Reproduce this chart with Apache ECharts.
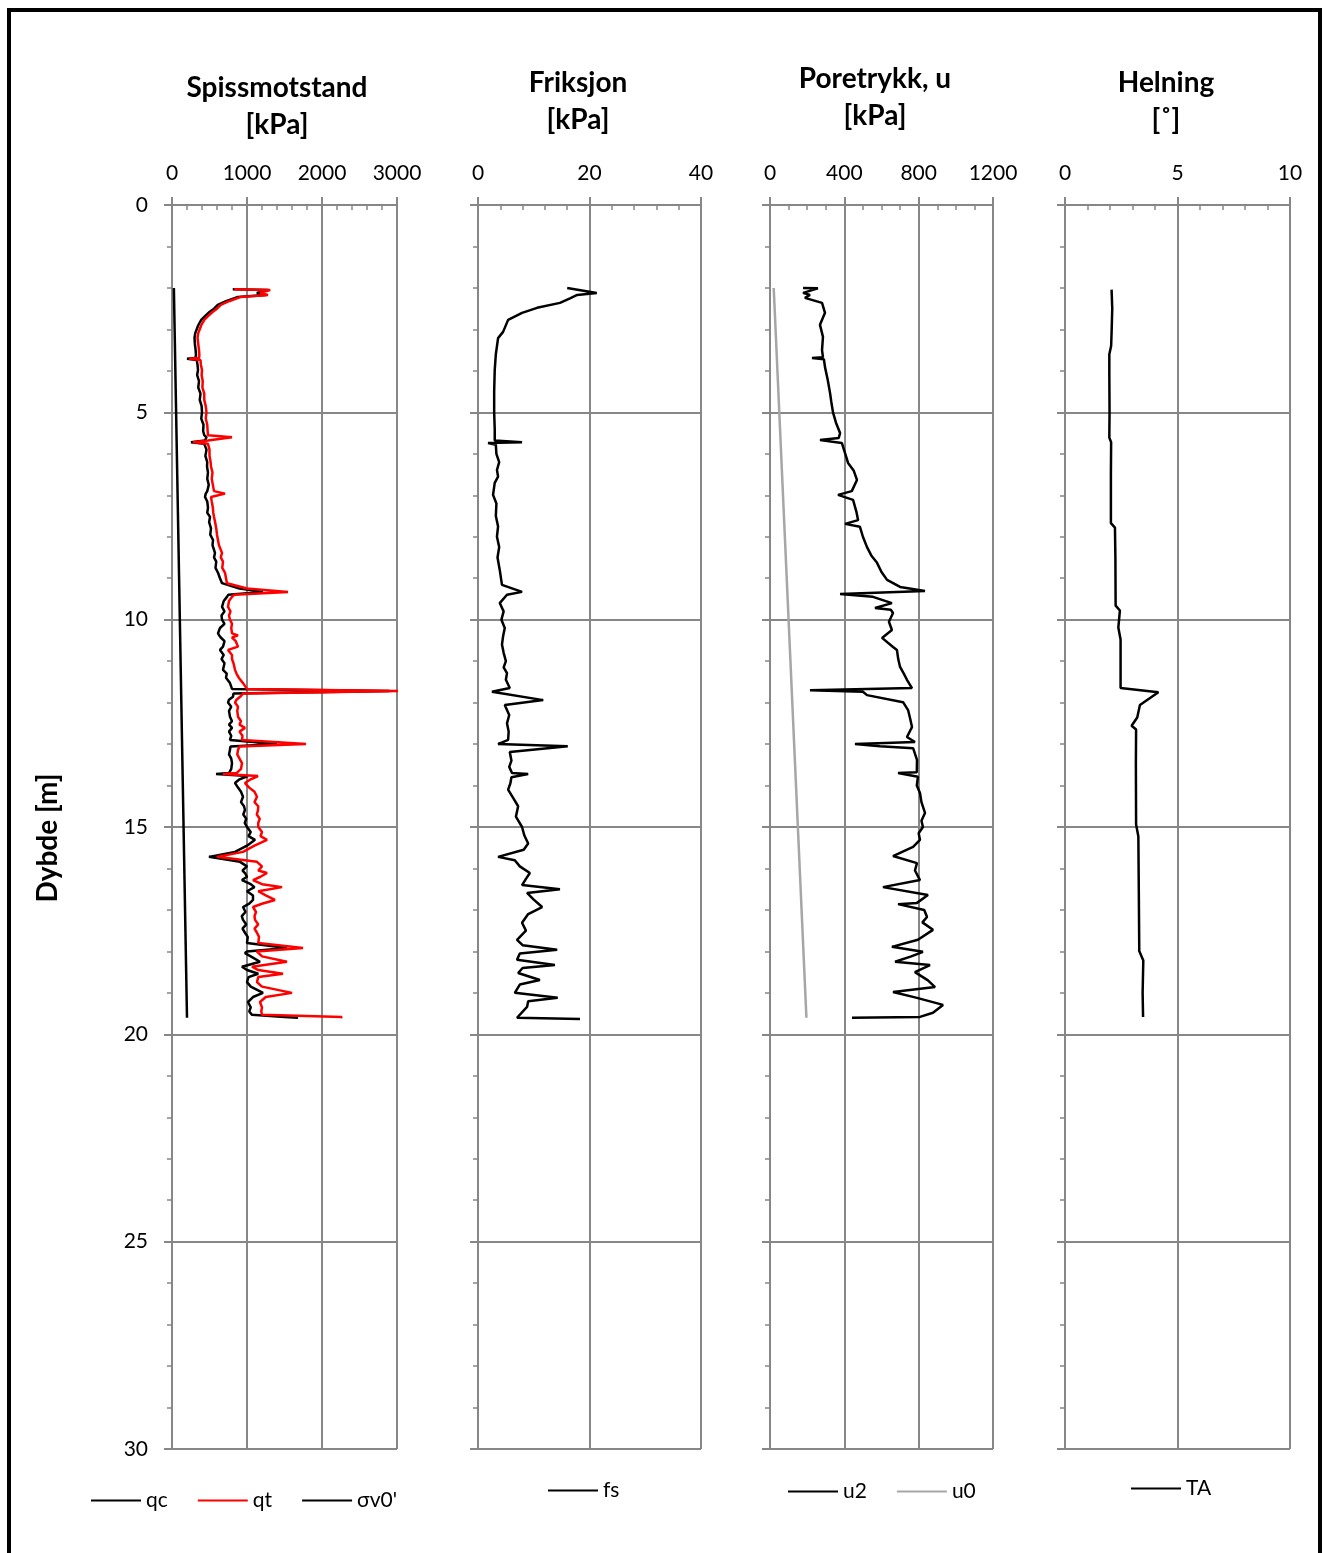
<!DOCTYPE html>
<html>
<head>
<meta charset="utf-8">
<script src="https://cdn.jsdelivr.net/npm/echarts@6/dist/echarts.min.js"></script>
<style>html,body{margin:0;padding:0;background:#fff}#c{width:1323px;height:1553px}</style>
</head>
<body>
<div id="c"></div>
<script>
// ---------- DATA ----------
var depthQ = [2.03,2.05,2.12,2.17,2.22,2.32,2.41,2.50,2.58,2.68,
  2.77,2.90,3.09,3.20,3.35,3.50,3.62,3.69,3.71,3.74,
  3.85,3.98,4.10,4.25,4.40,4.55,4.70,4.85,5.00,5.15,
  5.30,5.45,5.55,5.60,5.68,5.72,5.76,5.90,6.05,6.20,
  6.31,6.45,6.60,6.75,6.90,6.96,7.04,7.15,7.30,7.42,
  7.52,7.65,7.80,7.95,8.08,8.20,8.39,8.50,8.60,8.75,
  8.87,9.00,9.12,9.25,9.33,9.40,9.45,9.55,9.69,9.80,
  9.90,10.00,10.10,10.20,10.33,10.38,10.43,10.52,10.65,10.73,
  10.85,10.95,11.05,11.21,11.30,11.40,11.53,11.67,11.72,11.78,
  11.86,11.93,12.00,12.10,12.20,12.34,12.45,12.53,12.61,12.70,
  12.80,12.90,13.00,13.06,13.14,13.25,13.35,13.46,13.60,13.70,
  13.72,13.77,13.85,13.94,14.05,14.15,14.27,14.40,14.50,14.59,
  14.70,14.80,14.90,15.00,15.12,15.22,15.31,15.45,15.60,15.72,
  15.84,15.95,16.05,16.11,16.20,16.28,16.38,16.45,16.55,16.65,
  16.76,16.85,16.93,17.05,17.15,17.24,17.35,17.45,17.55,17.65,
  17.80,17.92,18.00,18.04,18.12,18.25,18.37,18.45,18.54,18.62,
  18.74,18.85,19.00,19.10,19.22,19.35,19.45,19.53,19.58,19.60];
var qc = [810,1280,1130,1250,880,720,610,560,500,440,
  390,350,310,300,305,315,320,310,200,330,
  340,347,335,360,350,380,370,395,400,390,
  420,415,430,460,440,253,430,460,445,470,
  467,480,470,490,470,450,440,470,480,470,
  507,495,520,510,547,540,573,560,590,580,
  613,640,667,900,1213,750,733,690,667,700,
  660,667,700,640,613,630,650,700,680,640,
  690,660,700,680,730,720,773,800,2900,820,
  813,760,747,790,760,773,800,760,800,760,
  790,773,1400,780,773,760,790,800,790,760,
  587,1013,900,840,880,920,947,920,960,973,
  950,990,970,1000,1050,1020,1107,1000,840,493,
  907,1000,940,973,1000,933,1050,1100,1000,1080,
  1080,1030,947,980,930,947,990,940,973,1010,
  1000,1533,1000,973,1050,1173,933,1000,1150,1020,
  1000,1050,1213,1080,1013,1050,1030,1067,1500,1680];
var qt = [830,1310,1170,1280,910,760,650,600,540,480,
  430,390,350,340,350,360,365,360,230,380,
  385,400,395,410,405,430,430,450,460,450,
  470,475,480,800,480,280,480,500,500,515,
  520,540,530,545,560,707,520,530,545,550,
  560,575,590,600,613,625,667,650,680,670,
  707,720,733,1000,1547,830,800,760,747,780,
  760,773,800,790,800,880,800,850,880,747,
  800,800,820,840,860,890,947,1000,3013,950,
  907,860,840,880,870,880,920,900,973,900,
  940,933,1787,900,880,870,900,933,920,860,
  680,1147,1050,973,1030,1100,1133,1100,1150,1147,
  1130,1170,1150,1150,1200,1180,1267,1100,947,600,
  1133,1200,1150,1267,1180,1080,1200,1467,1150,1250,
  1373,1200,1080,1120,1100,1107,1150,1100,1133,1160,
  1150,1747,1130,1107,1200,1533,1067,1150,1480,1150,
  1133,1200,1600,1250,1173,1200,1190,1200,2267,2250];
var depthS = [2.0, 19.6];
var sigmaV0 = [25, 200];

var depthF = [2.00,2.12,2.17,2.25,2.36,2.48,2.60,2.77,3.06,3.21,
  3.60,3.98,4.50,5.00,5.40,5.68,5.72,5.74,5.78,6.00,
  6.20,6.39,6.55,6.70,6.99,7.20,7.50,7.75,8.00,8.25,
  8.50,8.80,9.16,9.33,9.40,9.60,9.80,10.00,10.20,10.40,
  10.60,10.80,11.00,11.15,11.29,11.45,11.65,11.74,11.94,12.06,
  12.30,12.50,12.70,12.90,13.00,13.05,13.19,13.40,13.55,13.70,
  13.72,13.80,13.95,14.10,14.30,14.50,14.75,15.00,15.20,15.40,
  15.55,15.72,15.80,15.95,16.11,16.25,16.40,16.50,16.59,16.75,
  16.93,17.10,17.31,17.50,17.72,17.85,17.96,18.05,18.20,18.33,
  18.40,18.52,18.69,18.80,19.00,19.12,19.20,19.34,19.60,19.63];
var fs = [16.0,21.3,17.8,16.5,14.7,10.6,7.9,5.4,4.5,3.6,
  3.2,3.0,2.9,2.9,3.0,3.0,7.9,1.8,3.2,3.3,
  3.8,3.4,3.6,3.0,2.7,3.3,3.2,3.6,3.4,3.8,
  3.5,3.9,4.3,7.9,5.2,3.9,4.6,4.2,4.8,4.5,
  4.3,4.6,5.0,4.6,5.2,5.0,5.7,2.5,11.7,4.8,
  5.6,5.2,5.5,5.4,3.6,16.1,5.7,6.0,5.6,6.1,
  9.0,6.0,5.8,5.4,6.3,7.2,6.8,7.9,8.3,9.0,
  8.2,3.6,6.6,7.5,9.3,8.6,7.9,14.7,8.8,10.0,
  11.5,9.0,7.9,8.6,7.0,8.0,14.2,7.5,7.0,13.8,
  8.0,7.2,11.1,7.5,6.6,14.3,9.0,8.8,7.0,18.3];

var depthU = [2.00,2.01,2.12,2.17,2.24,2.36,2.60,2.89,3.18,3.50,
  3.67,3.69,3.72,3.91,4.20,4.53,4.75,5.00,5.25,5.50,
  5.62,5.67,5.74,6.00,6.22,6.40,6.63,6.90,6.99,7.11,
  7.40,7.60,7.69,7.76,8.00,8.25,8.45,8.63,8.85,9.04,
  9.21,9.31,9.38,9.45,9.60,9.72,9.76,9.84,10.05,10.25,
  10.44,10.66,10.73,10.95,11.14,11.30,11.45,11.65,11.70,11.74,
  11.82,11.99,12.18,12.40,12.59,12.83,12.95,13.00,13.05,13.10,
  13.38,13.68,13.70,13.79,14.00,14.18,14.40,14.66,14.85,15.00,
  15.15,15.31,15.48,15.70,15.87,16.05,16.28,16.45,16.64,16.83,
  16.86,17.00,17.17,17.30,17.48,17.72,17.89,18.01,18.12,18.25,
  18.33,18.50,18.70,18.86,18.98,19.12,19.29,19.48,19.58,19.60];
var u2 = [178,258,178,215,188,280,296,269,285,280,
  285,226,290,296,310,323,330,339,355,377,
  370,269,387,405,420,450,468,440,366,447,
  465,474,404,484,500,522,545,576,600,630,
  700,834,377,554,656,565,650,662,640,656,
  603,662,683,690,700,720,737,764,215,500,
  522,716,743,755,764,737,780,457,592,770,
  791,790,689,796,790,807,815,834,815,823,
  800,807,770,662,791,780,807,608,850,791,
  689,830,845,820,877,796,656,823,760,673,
  861,780,850,888,662,791,931,877,807,441];
var depthU0 = [2.0, 19.6];
var u0 = [20, 196];

var depthT = [2.04,2.50,3.09,3.40,3.60,4.09,5.00,5.61,5.72,6.50,
  7.67,7.78,8.50,9.66,9.78,10.19,10.48,11.65,11.75,11.89,
  12.06,12.36,12.56,12.65,13.50,14.94,15.23,16.50,17.99,18.22,
  19.00,19.58];
var ta = [2.07,2.10,2.07,2.05,1.97,1.97,1.98,1.97,2.05,2.04,
  2.04,2.22,2.24,2.25,2.44,2.37,2.47,2.47,4.15,3.78,
  3.33,3.21,2.96,3.16,3.15,3.16,3.26,3.28,3.30,3.48,
  3.45,3.47];

var panelTitles = [["Spissmotstand","[kPa]"],["Friksjon","[kPa]"],["Poretrykk, u","[kPa]"],["Helning","[˚]"]];
var xMax = [3000, 40, 1200, 10];
var xMajor = [1000, 20, 400, 5];
var xMinor = [200, 4, 100, 1];
var yLabel = "Dybde [m]";

// ---------- CHART ----------
var FONT = "Lato, 'Open Sans', sans-serif";
var GRAY = '#878787';
var gridPos = [
  {left:172, width:225}, {left:478, width:223}, {left:770, width:223}, {left:1065, width:225}
];
var grids = [], xAxes = [], yAxes = [];
function plain(v){ return String(v); }
gridPos.forEach(function(g, i){
  grids.push({left:g.left, top:205, width:g.width, height:1244, containLabel:false});
  xAxes.push({type:'value', gridIndex:i, position:'top', min:0, max:xMax[i], interval:xMajor[i],
    axisLine:{show:true, lineStyle:{color:GRAY, width:2}},
    axisTick:{show:true, inside:false, length:8, lineStyle:{color:GRAY, width:2}},
    axisLabel:{show:true, margin:21, color:'#000', fontSize:21, fontFamily:FONT, formatter:plain},
    splitLine:{show:true, lineStyle:{color:GRAY, width:2}}});
  xAxes.push({type:'value', gridIndex:i, position:'top', min:0, max:xMax[i], interval:xMinor[i],
    axisLine:{show:false}, axisTick:{show:true, inside:true, length:5, lineStyle:{color:GRAY, width:1.5}},
    axisLabel:{show:false}, splitLine:{show:false}});
  yAxes.push({type:'value', gridIndex:i, inverse:true, min:0, max:30, interval:5,
    axisLine:{show:true, lineStyle:{color:GRAY, width:2}},
    axisTick:{show:true, inside:false, length:8, lineStyle:{color:GRAY, width:2}},
    axisLabel:{show:i===0, margin:24, color:'#000', fontSize:21, fontFamily:FONT, formatter:plain},
    splitLine:{show:true, lineStyle:{color:GRAY, width:2}}});
  yAxes.push({type:'value', gridIndex:i, inverse:true, min:0, max:30, interval:1,
    axisLine:{show:false}, axisTick:{show:true, inside:true, length:5, lineStyle:{color:GRAY, width:1.5}},
    axisLabel:{show:false}, splitLine:{show:false}});
});

function pairs(vals, depths){ return depths.map(function(d,k){ return [vals[k], d]; }); }
function line(name, p, vals, depths, color, w){
  return {name:name, type:'line', xAxisIndex:p*2, yAxisIndex:p*2, data:pairs(vals, depths),
    showSymbol:false, symbol:'none', animation:false, lineStyle:{color:color, width:w}, itemStyle:{color:color}, z:3};
}
var series = [
  line('qc', 0, qc, depthQ, '#000000', 2.5),
  line('qt', 0, qt, depthQ, '#ff0000', 2.5),
  line("σv0'", 0, sigmaV0, depthS, '#000000', 2.5),
  line('fs', 1, fs, depthF, '#000000', 2.5),
  line('u2', 2, u2, depthU, '#000000', 2.5),
  line('u0', 2, u0, depthU0, '#a6a6a6', 2.5),
  line('TA', 3, ta, depthT, '#000000', 2.5)
];

function legend(left, top, names){
  return {left:left, top:top, data:names, orient:'horizontal', icon:'rect', itemWidth:50, itemHeight:2,
    itemGap:30, padding:0, selectedMode:false, textStyle:{fontSize:21, fontFamily:FONT, color:'#000'}};
}

var graphics = [
  {type:'rect', shape:{x:9, y:10, width:1311, height:1560}, style:{fill:null, stroke:'#000', lineWidth:4}, z:100}
];
var titlePos = [[277,88,125],[578,83,120],[875,79,116],[1166,83,120]];
panelTitles.forEach(function(t,i){
  graphics.push({type:'text', x:titlePos[i][0], y:titlePos[i][1], style:{text:t[0], textAlign:'center', textVerticalAlign:'middle', font:'bold 28px '+FONT, fill:'#000'}});
  graphics.push({type:'text', x:titlePos[i][0], y:titlePos[i][2], style:{text:t[1], textAlign:'center', textVerticalAlign:'middle', font:'bold 28px '+FONT, fill:'#000'}});
});
graphics.push({type:'text', x:48, y:838, rotation:Math.PI/2, style:{text:yLabel, textAlign:'center', textVerticalAlign:'middle', font:'bold 28px '+FONT, fill:'#000'}});

var chart = echarts.init(document.getElementById('c'), null, {renderer:'canvas'});
chart.setOption({
  animation:false,
  backgroundColor:'#fff',
  grid:grids, xAxis:xAxes, yAxis:yAxes, series:series,
  legend:[legend(91,1490,['qc','qt',"σv0'"]), legend(548,1480,['fs']), legend(788,1481,['u2','u0']), legend(1131,1478,['TA'])],
  graphic:graphics
});
</script>
</body>
</html>
